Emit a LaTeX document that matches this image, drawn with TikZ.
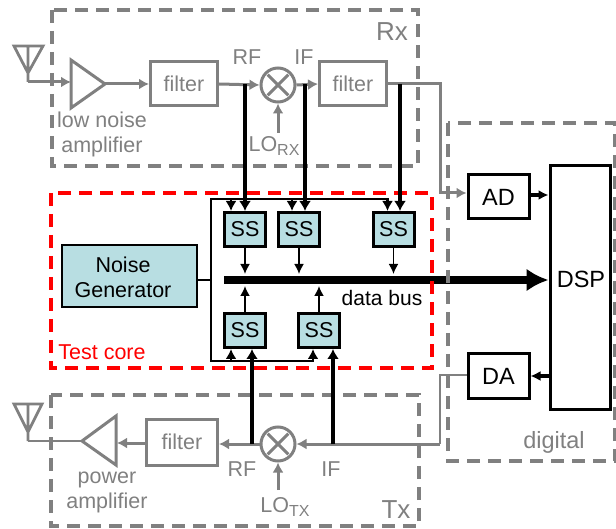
\documentclass[tikz,border=0pt]{standalone}
\usepackage{fontspec}
\setmainfont{Liberation Sans}
\usetikzlibrary{arrows.meta}
\definecolor{mygray}{RGB}{128,128,128}
\definecolor{myred}{RGB}{255,0,0}
\definecolor{myteal}{RGB}{184,222,226}
\newcommand\mysub[1]{\raisebox{-4.5pt}{\fontsize{16}{16}\selectfont #1}}
\tikzset{
  lbl/.style={font=\fontsize{21.5}{25}\selectfont,inner sep=0pt,align=center},
  biglbl/.style={lbl,font=\fontsize{23.5}{25}\selectfont},
  graylbl/.style={lbl,text=mygray},
  dashbox/.style={line width=3.6pt,dash pattern=on 13pt off 8pt},
  grayline/.style={mygray,line width=3pt,-{Latex[length=10pt,width=11pt]}},
  filterbox/.style={graylbl,draw=mygray,line width=3pt,minimum width=67pt,minimum height=44pt},
  mixer/.style={circle,draw=mygray,line width=3pt,minimum size=34pt,inner sep=0pt},
  ssbox/.style={lbl,draw=black,line width=3pt,fill=myteal,minimum width=41pt,minimum height=34pt},
  blackbox/.style={biglbl,draw=black,line width=3pt},
  thickline/.style={black,line width=4pt,-{Latex[length=10pt,width=12pt]}},
  thinline/.style={black,line width=1.8pt,-{Latex[length=10pt,width=10pt]}},
  tick/.style={black,line width=3.5pt,-{Latex[length=10pt,width=10pt]}},
  antenna/.style={mygray,line width=2.8pt,line join=miter},
  crossline/.style={mygray,line width=3pt,shorten >=4pt,shorten <=4pt},
}
\begin{document}
\begin{tikzpicture}[x=1pt,y=-1pt]
    \useasboundingbox (0,0) rectangle (616,529);

    % data bus goes below the dashed frames
    \coordinate (busw) at (224,280);
    \node[blackbox,minimum width=60pt,minimum height=243pt] (dsp) at (580,287.5) {};
    \node[biglbl] (dsptext) at (581,279) {DSP};
    \draw[black,line width=8pt,-{Latex[length=22pt,width=23pt]}]
      (busw) -- (dsp.west |- busw);
    \node[lbl,font=\fontsize{21}{25}\selectfont] (buslabel) at (382,298) {data bus};

    % frames
    \draw[mygray,dashbox] (52,10) rectangle (418,166);
    \draw[mygray,dashbox] (51,395) rectangle (419,526);
    \draw[mygray,dashbox] (448,123) rectangle (615,461);
    \draw[myred,dashbox] (51,193) rectangle (432,368);
    \node[graylbl,font=\fontsize{26}{25}\selectfont] (rxlabel) at (392,32) {Rx};
    \node[graylbl,font=\fontsize{26}{25}\selectfont] (txlabel) at (396,510) {Tx};
    \node[graylbl,biglbl] (diglabel) at (554,442) {digital};
    \node[lbl,text=myred] (corelabel) at (102,352) {Test core};

    % receive path
    \draw[antenna] (14,46) -- (43,46) -- (28,73) -- cycle (28,46) -- (28,82);
    \coordinate (antrx) at (28,82);
    \coordinate (lnain) at (71,82);
    \coordinate (lnaout) at (105,84);
    \draw[mygray,line width=3pt] (71,60) -- (71,108) -- (lnaout) -- cycle;
    \draw[grayline] (antrx) -- (lnain);
    \node[graylbl] (lnalabel) at (102,134.5) {low noise\\amplifier};
    \node[filterbox] (filtera) at (184,84) {filter};
    \draw[grayline] (lnaout) -- (filtera.west);
    \node[mixer] (mixrx) at (278,85) {};
    \draw[crossline] (mixrx.45) -- (mixrx.225);
    \draw[crossline] (mixrx.135) -- (mixrx.315);
    \draw[grayline] (filtera.east) -- (mixrx.west);
    \node[filterbox] (filterb) at (353,84) {filter};
    \draw[grayline] (mixrx.east) -- (filterb.west);
    \node[graylbl] (rfrxlabel) at (247,57) {RF};
    \node[graylbl] (ifrxlabel) at (304,57) {IF};
    \node[graylbl] (lorxlabel) at (274,146) {LO\mysub{RX}};
    \coordinate (lorx) at (278,133);
    \draw[grayline] (lorx) -- (mixrx.south);

    % transmit path
    \draw[antenna] (14,404) -- (42,404) -- (28,432) -- cycle (28,404) -- (28,441);
    \coordinate (anttx) at (28,441);
    \coordinate (patip) at (82,441);
    \draw[mygray,line width=3pt] (116,416) -- (116,465) -- (patip) -- cycle;
    \draw[mygray,line width=2.5pt] (anttx) -- (patip);
    \coordinate (pain) at (117,443);
    \coordinate (filtlevel) at (0,443);
    \node[graylbl] (palabel) at (107,492) {power\\amplifier};
    \node[filterbox,minimum width=71pt,minimum height=46pt] (filterc) at (182,442) {filter};
    \draw[grayline] (filterc.west |- filtlevel) -- (pain);
    \node[mixer] (mixtx) at (278,444) {};
    \draw[crossline] (mixtx.45) -- (mixtx.225);
    \draw[crossline] (mixtx.135) -- (mixtx.315);
    \draw[grayline] (mixtx.west) -- (filterc.east |- mixtx.west);
    \node[graylbl] (rftxlabel) at (242,469) {RF};
    \node[graylbl] (iftxlabel) at (331,469) {IF};
    \node[graylbl] (lotxlabel) at (285,507) {LO\mysub{TX}};
    \coordinate (lotx) at (278,490);
    \draw[grayline] (lotx) -- (mixtx.south);

    % converters
    \node[blackbox,minimum width=61pt,minimum height=44pt] (ad) at (498.5,197) {AD};
    \node[blackbox,minimum width=61pt,minimum height=44pt] (da) at (498.5,376) {DA};
    \coordinate (adlevel) at (440,193);
    \coordinate (dalevel) at (440,375);
    \coordinate (txlevel) at (440,444);
    \draw[grayline] (filterb.east) -- (440,84) -- (adlevel) -- (ad.west |- adlevel);
    \draw[mygray,line width=2.5pt] (da.west |- dalevel) -- (dalevel) -- (txlevel);
    \draw[grayline] (txlevel) -- (mixtx.east);
    \coordinate (adout) at (529,195);
    \coordinate (dain) at (529,376);
    \draw[tick] (adout) -- (dsp.west |- adout);
    \draw[tick] (dsp.west |- dain) -- (da.east |- dain);

    % test core
    \node[draw=black,line width=2.5pt,fill=myteal,minimum width=135pt,minimum height=62pt]
      (noise) at (129.5,276) {};
    \node[lbl] (noisetext) at (123,277) {Noise\\Generator};
    \foreach \Nm/\Xc/\Yc in {ssa/245/229.5,ssb/299/229.5,ssc/393.5/229.5,ssd/245/330.5,sse/319/330.5}
    {
      \node[ssbox] (\Nm) at (\Xc,\Yc) {SS};
    }
    \coordinate (framew) at (211,280);
    \coordinate (framenw) at (211,199);
    \coordinate (framesw) at (211,361);
    \draw[black,line width=2.2pt,{Latex[length=10pt,width=11pt]}-{Latex[length=10pt,width=11pt]}]
      ([xshift=-6pt]ssc.north) -- ([xshift=-6pt]ssc.north |- framenw) -- (framenw)
      -- (framesw) -- ([xshift=-6pt]sse.south |- framesw) -- ([xshift=-6pt]sse.south);
    \draw[black,line width=2.2pt] (noise.east |- framew) -- (framew);
    \draw[black,line width=2.2pt,-{Latex[length=10pt,width=11pt]}]
      ([xshift=-14pt]ssa.north |- framenw) -- ([xshift=-14pt]ssa.north);
    \draw[black,line width=2.2pt,-{Latex[length=10pt,width=11pt]}]
      ([xshift=-7pt]ssb.north |- framenw) -- ([xshift=-7pt]ssb.north);
    \draw[black,line width=2.2pt,-{Latex[length=10pt,width=11pt]}]
      ([xshift=-14pt]ssd.south |- framesw) -- ([xshift=-14pt]ssd.south);

    % tapped lines
    \coordinate (taprfrx) at (245,84);
    \coordinate (tapifrx) at (305,84);
    \coordinate (tapfilt) at (400,84);
    \coordinate (taprftx) at (252,444);
    \coordinate (tapiftx) at (333,444);
    \draw[thickline] (taprfrx) -- (taprfrx |- ssa.north);
    \draw[thickline] (tapifrx) -- (tapifrx |- ssb.north);
    \draw[thickline] (tapfilt) -- (tapfilt |- ssc.north);
    \draw[thickline] (taprftx) -- (taprftx |- ssd.south);
    \draw[thickline] (tapiftx) -- (tapiftx |- sse.south);

    % to and from the bus
    \coordinate (busabove) at (0,274);
    \coordinate (busbelow) at (0,286);
    \foreach \Nm in {ssa,ssb,ssc}
    {
      \draw[thinline] (\Nm.south) -- (\Nm.south |- busabove);
    }
    \foreach \Nm in {ssd,sse}
    {
      \draw[thinline] (\Nm.north) -- (\Nm.north |- busbelow);
    }
\end{tikzpicture}
\end{document}
